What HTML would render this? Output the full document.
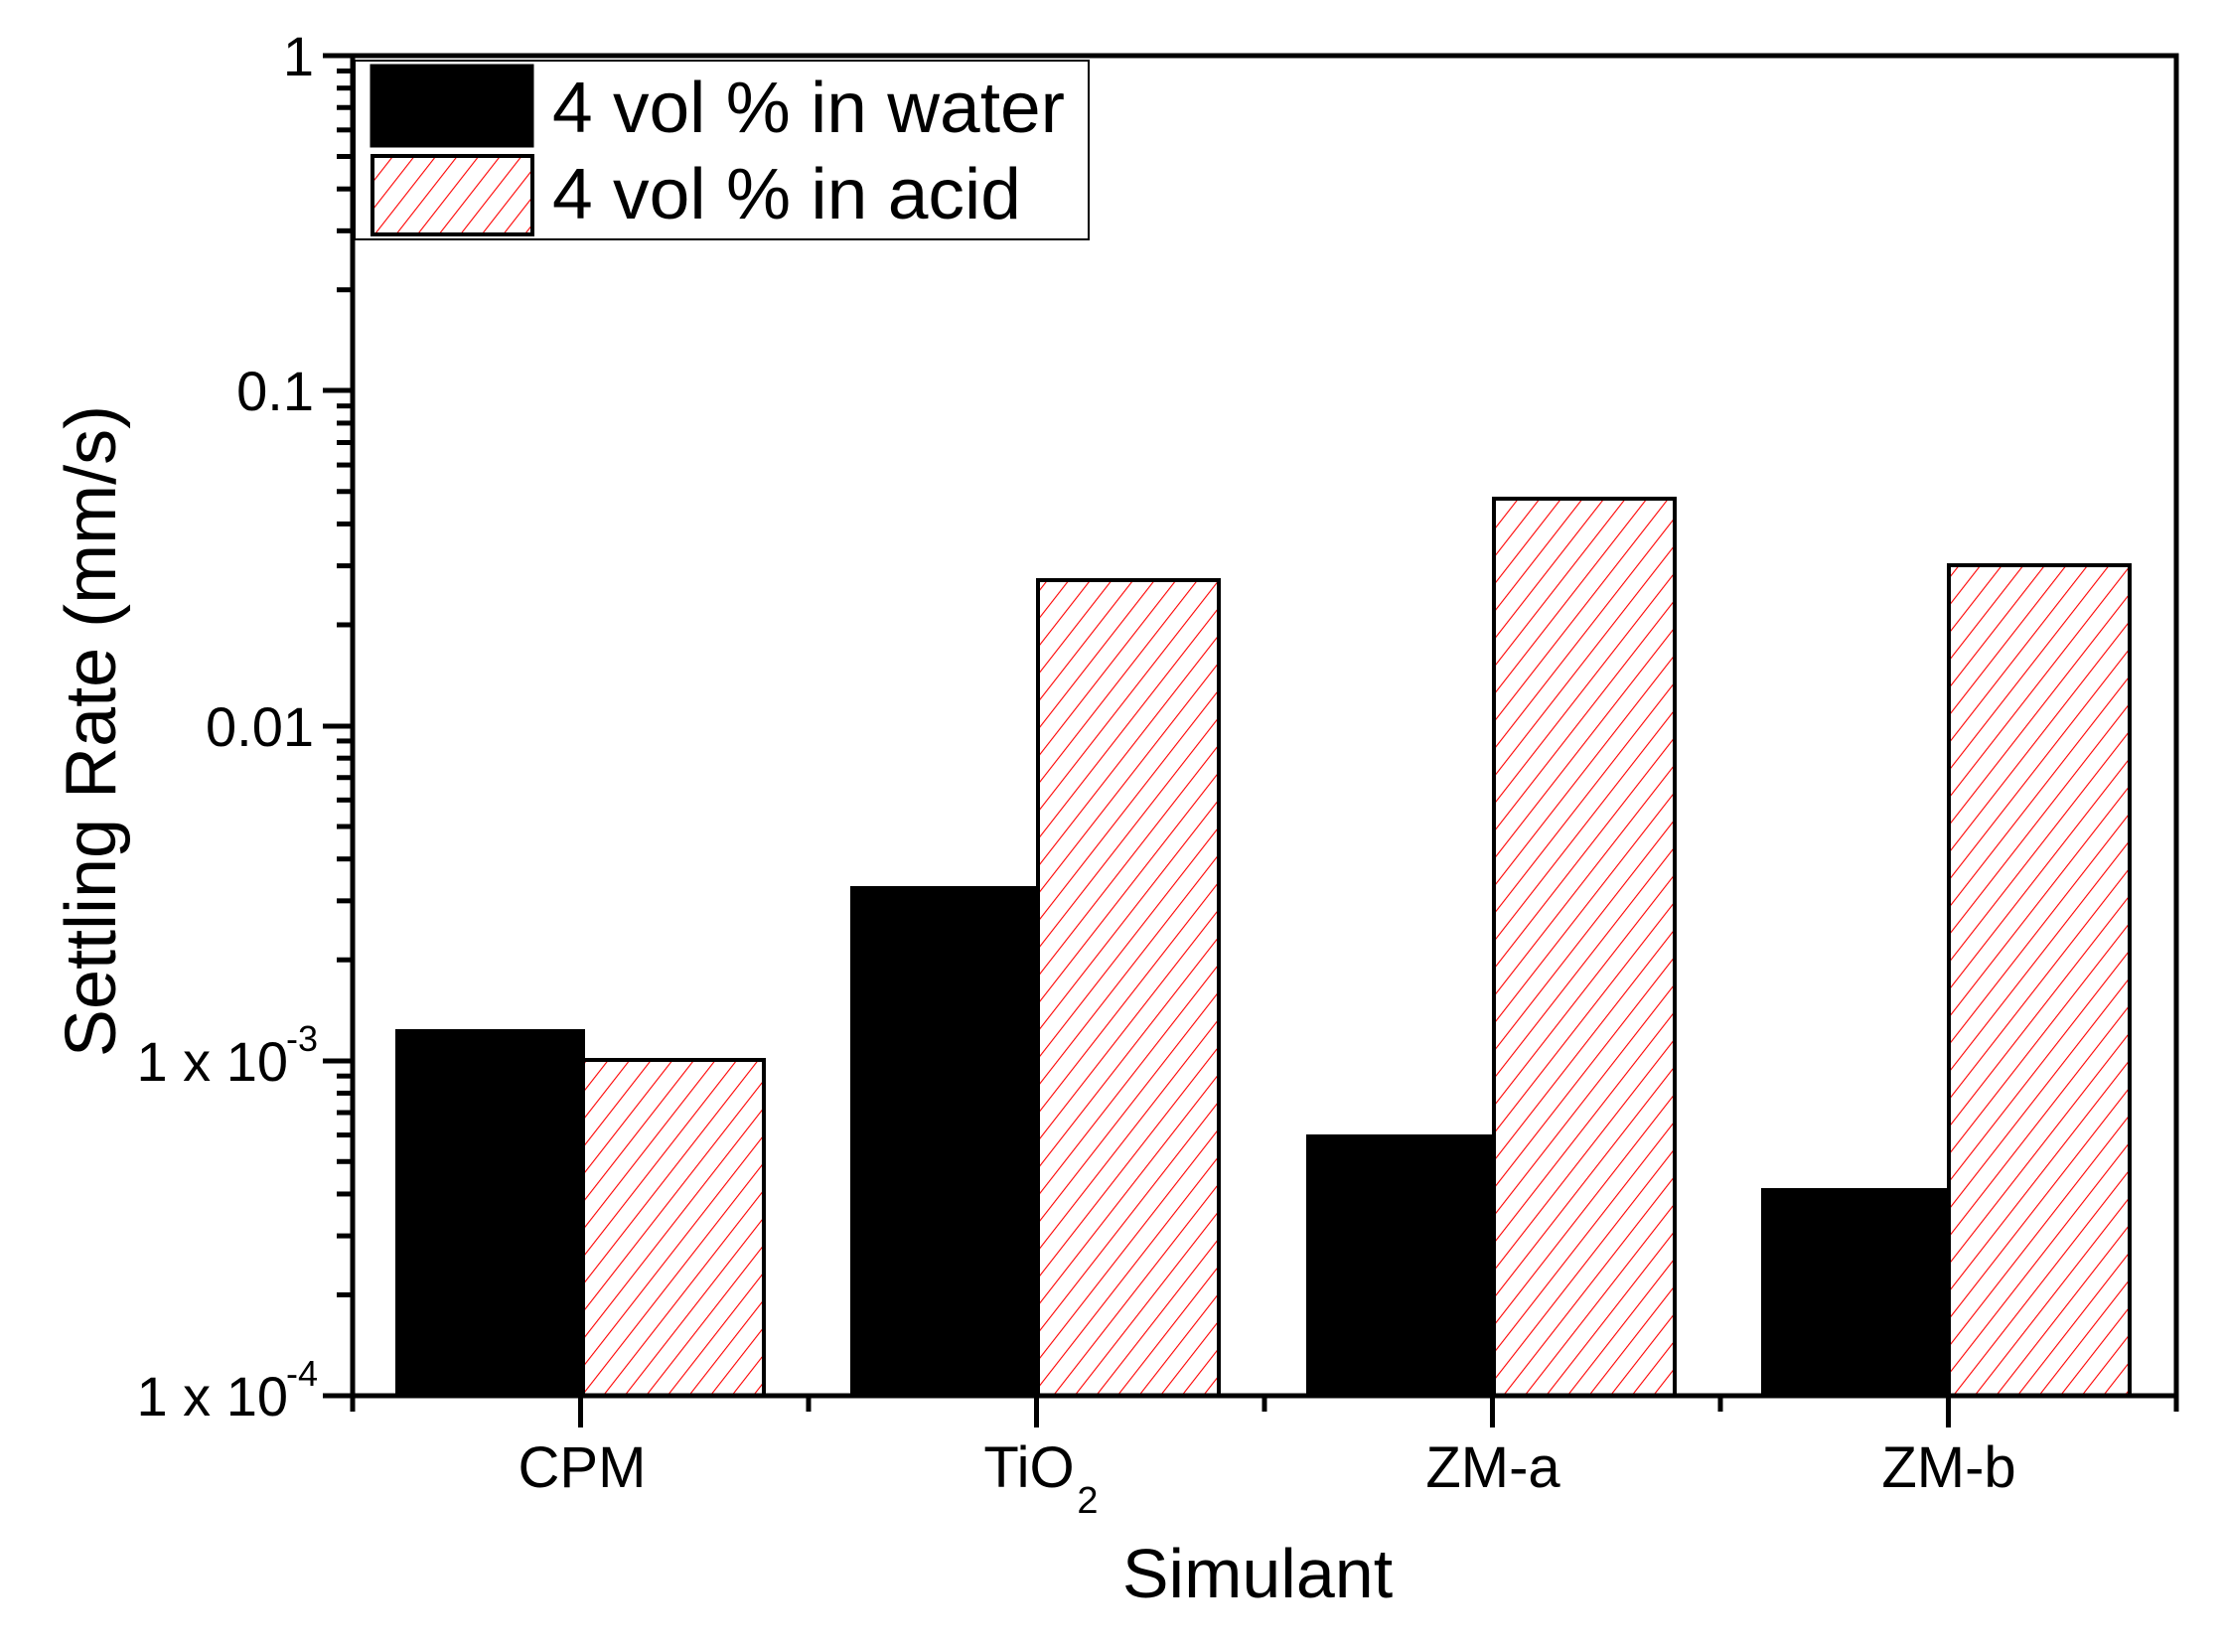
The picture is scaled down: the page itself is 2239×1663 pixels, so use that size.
<!DOCTYPE html>
<html><head><meta charset="utf-8"><style>
html,body{margin:0;padding:0;background:#fff;}
svg{display:block;font-family:"Liberation Sans",Arial,sans-serif;}
</style></head><body>
<svg id="s" width="2239" height="1663" viewBox="0 0 2239 1663" xmlns="http://www.w3.org/2000/svg">
<defs>
<pattern id="h" patternUnits="userSpaceOnUse" width="17" height="17" patternTransform="rotate(38)">
<rect width="17" height="17" fill="#fff"/>
<line x1="0" y1="0" x2="0" y2="17" stroke="#ff0000" stroke-width="2.2"/>
</pattern>
</defs>
<g stroke="#000" stroke-width="4">
<rect x="400" y="1038" width="187" height="367" fill="#000"/>
<rect x="587" y="1067" width="182" height="338" fill="url(#h)"/>
<rect x="858" y="894" width="187" height="511" fill="#000"/>
<rect x="1045" y="584" width="182" height="821" fill="url(#h)"/>
<rect x="1317" y="1144" width="187" height="261" fill="#000"/>
<rect x="1504" y="502" width="182" height="903" fill="url(#h)"/>
<rect x="1775" y="1198" width="187" height="207" fill="#000"/>
<rect x="1962" y="569" width="182" height="836" fill="url(#h)"/>
</g>
<rect x="357" y="61" width="739" height="180" fill="#fff" stroke="#000" stroke-width="2"/>
<rect x="374" y="66" width="162" height="81" fill="#000" stroke="#000" stroke-width="3"/>
<rect x="375" y="157" width="161" height="79" fill="url(#h)" stroke="#000" stroke-width="4"/>
<text x="556" y="133" font-size="72" textLength="516" lengthAdjust="spacingAndGlyphs">4 vol % in water</text>
<text x="556" y="220" font-size="72" textLength="472" lengthAdjust="spacingAndGlyphs">4 vol % in acid</text>
<rect x="355" y="56" width="1836" height="1349" fill="none" stroke="#000" stroke-width="5"/>
<g stroke="#000" stroke-width="5">
<line x1="325" y1="56" x2="355" y2="56"/>
<line x1="325" y1="393" x2="355" y2="393"/>
<line x1="325" y1="731" x2="355" y2="731"/>
<line x1="325" y1="1068" x2="355" y2="1068"/>
<line x1="325" y1="1405" x2="355" y2="1405"/>
</g>
<g id="ticks" stroke="#000" stroke-width="5"></g>
<g font-size="56" text-anchor="end">
<text x="316" y="76">1</text>
<text x="316" y="413">0.1</text>
<text x="316" y="751">0.01</text>
<text x="290" y="1088">1 x 10</text>
<text x="320" y="1058" font-size="36">-3</text>
<text x="290" y="1425">1 x 10</text>
<text x="320" y="1395" font-size="36">-4</text>
</g>
<g font-size="58" text-anchor="middle">
<text x="586" y="1497">CPM</text>
<text x="1036" y="1497">TiO</text>
<text x="1095" y="1523" font-size="38">2</text>
<text x="1503" y="1497">ZM-a</text>
<text x="1962" y="1497">ZM-b</text>
</g>
<text x="1266" y="1608" font-size="70" text-anchor="middle">Simulant</text>
<text transform="translate(116,736) rotate(-90)" font-size="72" text-anchor="middle">Settling Rate (mm/s)</text>
</svg>
<script>
(function(){
var g=document.getElementById('ticks'),ns='http://www.w3.org/2000/svg';
function L(x1,y1,x2,y2){var l=document.createElementNS(ns,'line');l.setAttribute('x1',x1);l.setAttribute('y1',y1);l.setAttribute('x2',x2);l.setAttribute('y2',y2);g.appendChild(l);}
var t0=56,dec=337.25;
for(var d=0;d<4;d++){var base=t0+dec*(d+1);
 for(var k=2;k<=9;k++){var y=base-Math.log10(k)*dec;L(339,y,355,y);}
}
for(var i=0;i<4;i++){var c=355+459*(i+0.5);L(c,1405,c,1437);}
for(var i=0;i<=4;i++){var x=355+459*i;L(x,1405,x,1421);}
})();
</script>
</body></html>
